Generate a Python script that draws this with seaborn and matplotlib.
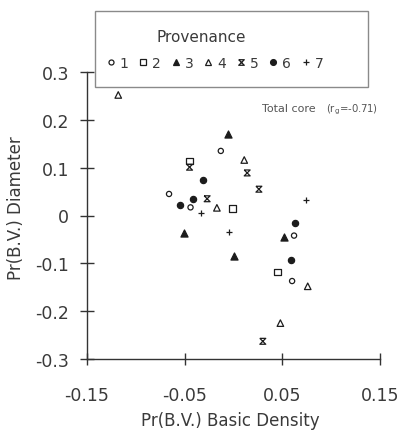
import numpy as np
import pandas as pd
import matplotlib
matplotlib.use("Agg")
import matplotlib.pyplot as plt
from matplotlib.path import Path
from matplotlib.lines import Line2D
from matplotlib.patches import Rectangle
import seaborn as sns

# Predicted breeding values, Pr(B.V.), for basic density (x) and diameter (y)
prov1_density = [-0.013, -0.066, -0.044, 0.062, 0.060]
prov1_diameter = [0.135, 0.045, 0.017, -0.042, -0.137]

prov2_density = [-0.045, -0.001, 0.045]
prov2_diameter = [0.114, 0.015, -0.118]

prov3_density = [-0.006, -0.051, 0.001, 0.052]
prov3_diameter = [0.171, -0.036, -0.084, -0.044]

prov4_density = [-0.118, 0.011, -0.017, 0.076, 0.048]
prov4_diameter = [0.252, 0.116, 0.016, -0.148, -0.225]

prov5_density = [-0.045, 0.014, 0.026, -0.027, 0.030]
prov5_diameter = [0.101, 0.089, 0.055, 0.035, -0.263]

prov6_density = [-0.031, -0.041, -0.055, 0.063, 0.059]
prov6_diameter = [0.075, 0.034, 0.021, -0.016, -0.094]

prov7_density = [-0.033, 0.074, -0.005]
prov7_diameter = [0.006, 0.032, -0.034]

provenances = ["1", "2", "3", "4", "5", "6", "7"]
x_ticks = [-0.15, -0.05, 0.05, 0.15]
x_tick_labels = ["-0.15", "-0.05", "0.05", "0.15"]
y_ticks = [-0.3, -0.2, -0.1, 0.0, 0.1, 0.2, 0.3]
y_tick_labels = ["-0.3", "-0.2", "-0.1", "0", "0.1", "0.2", "0.3"]
correlation_label = "Total core"
correlation_value = r"(r$_{\rm g}$=-0.71)"

density_values = [prov1_density, prov2_density, prov3_density, prov4_density,
                  prov5_density, prov6_density, prov7_density]
diameter_values = [prov1_diameter, prov2_diameter, prov3_diameter, prov4_diameter,
                   prov5_diameter, prov6_diameter, prov7_diameter]

df = pd.concat(
    [pd.DataFrame({"density": d, "diameter": v, "provenance": p})
     for p, d, v in zip(provenances, density_values, diameter_values)],
    ignore_index=True,
)

sns.set_theme(style="white")
plt.rcParams["font.family"] = ["DejaVu Sans"]
plt.rcParams["mathtext.default"] = "regular"
plt.rcParams["axes.unicode_minus"] = False

ink = "#1c1c1c"
text_col = "#3a3a3a"
axis_col = "#333333"

# "x" with top and bottom bars
hourglass = Path(
    [(-1, 1), (1, 1), (-1, -1), (1, -1), (-1, 1)],
    [Path.MOVETO, Path.LINETO, Path.LINETO, Path.LINETO, Path.LINETO],
)

# marker, filled, scatter size (pt^2)
styles = {
    "1": ("o", False, 14),
    "2": ("s", False, 22),
    "3": ("^", True, 26),
    "4": ("^", False, 22),
    "5": (hourglass, False, 18),
    "6": ("o", True, 20),
    "7": ("+", False, 22),
}

fig = plt.figure(figsize=(4.0, 4.31), dpi=100)
ax = fig.add_axes([87 / 400, 1 - 360 / 431, 293 / 400, 287 / 431])

for p in provenances:
    sub = df[df["provenance"] == p]
    m, filled, s = styles[p]
    if m == "+":
        sns.scatterplot(data=sub, x="density", y="diameter", marker=m, s=s,
                        color=ink, linewidth=0.9, ax=ax, legend=False)
    else:
        sns.scatterplot(data=sub, x="density", y="diameter", marker=m, s=s,
                        facecolor=ink if filled else "none", edgecolor=ink,
                        linewidth=0.9, ax=ax, legend=False)

ax.set_xlim(-0.15, 0.15)
ax.set_ylim(-0.3, 0.3)
ax.set_xticks(x_ticks)
ax.set_xticklabels(x_tick_labels)
ax.set_yticks(y_ticks)
ax.set_yticklabels(y_tick_labels)

for side in ["top", "right"]:
    ax.spines[side].set_visible(False)
for side in ["left", "bottom"]:
    ax.spines[side].set_color(axis_col)
    ax.spines[side].set_linewidth(1.0)

ax.tick_params(axis="x", bottom=True, direction="inout", length=9, width=1.0,
               color=axis_col, labelsize=12.5, labelcolor=text_col, pad=15)
ax.tick_params(axis="y", left=True, direction="inout", length=10, width=1.0,
               color=axis_col, labelsize=12.5, labelcolor=text_col, pad=8)

ax.set_xlabel("Pr(B.V.) Basic Density", fontsize=12, color=text_col)
ax.set_ylabel("Pr(B.V.) Diameter", fontsize=12, color=text_col)
ax.xaxis.set_label_coords(0.488, -0.18)
ax.yaxis.set_label_coords(-0.21, 0.53)

# Correlation note
ax.text((262 - 87) / 293, (360 - 112) / 287, correlation_label, transform=ax.transAxes,
        fontsize=8, color="#555555", ha="left", va="baseline")
ax.text((326 - 87) / 293, (360 - 112) / 287, correlation_value, transform=ax.transAxes,
        fontsize=7.3, color="#555555", ha="left", va="baseline")

# Legend box with title and one row of markers
fig.patches.append(Rectangle((95 / 400, 1 - 88 / 431), 273 / 400, 76 / 431,
                             transform=fig.transFigure, facecolor="white",
                             edgecolor="#8a8a8a", linewidth=1.0, zorder=5))
fig.text(201 / 400, 1 - 38 / 431, "Provenance", fontsize=11, color=text_col,
         ha="center", va="center", zorder=6)

legend_sizes = {"1": 3.6, "2": 4.2, "3": 4.6, "4": 4.2, "5": 4.0, "6": 4.2, "7": 4.6}
handles = []
for p in provenances:
    m, filled, _ = styles[p]
    handles.append(Line2D([], [], linestyle="none", marker=m,
                          markersize=legend_sizes[p],
                          markerfacecolor=ink if filled else "none",
                          markeredgecolor=ink, markeredgewidth=0.9, color=ink))
leg = fig.legend(handles, provenances, ncol=7, loc="center left",
                 bbox_to_anchor=(105 / 400, 1 - 64 / 431), frameon=False,
                 fontsize=10, handlelength=0.8, handletextpad=0.25,
                 columnspacing=0.66, borderpad=0, borderaxespad=0)
leg.set_zorder(6)
for t in leg.get_texts():
    t.set_color(text_col)

fig.savefig("out.png", dpi=100)
